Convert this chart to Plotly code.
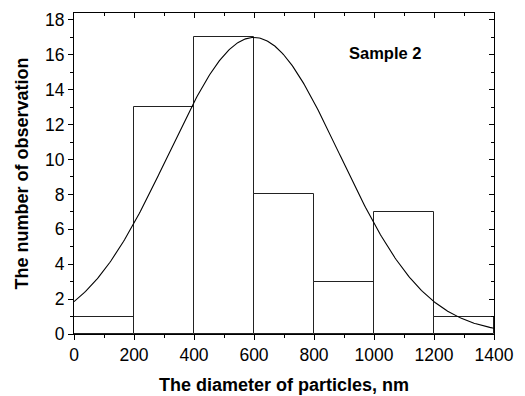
import numpy as np
import plotly.graph_objects as go

# Histogram data
bin_left = [0, 200, 400, 600, 800, 1000, 1200]
bin_width = 200
counts = [1, 13, 17, 8, 3, 7, 1]

# Gaussian fit parameters
fit_center = 600
fit_sigma = 285
fit_amplitude = 17.0

x_ticks = [0, 200, 400, 600, 800, 1000, 1200, 1400]
y_ticks = [0, 2, 4, 6, 8, 10, 12, 14, 16, 18]

bin_centers = [b + bin_width / 2 for b in bin_left]
xf = np.linspace(0, 1400, 400)
yf = fit_amplitude * np.exp(-((xf - fit_center) ** 2) / (2 * fit_sigma ** 2))

FONT = "Liberation Sans, Arial, sans-serif"

fig = go.Figure()
fig.add_trace(go.Bar(
    x=bin_centers, y=counts, width=[bin_width] * len(counts),
    marker=dict(color="white", line=dict(color="#222", width=1)),
    showlegend=False, hoverinfo="skip"))
fig.add_trace(go.Scatter(
    x=xf, y=yf, mode="lines", line=dict(color="black", width=1.1),
    showlegend=False, hoverinfo="skip"))

fig.add_annotation(x=1037, y=16.1, text="<b>Sample 2</b>", showarrow=False,
                   font=dict(family=FONT, size=16.5, color="black"),
                   xref="x", yref="y")

axis_common = dict(showgrid=False, zeroline=False, showline=True,
                   linecolor="black", linewidth=1.2, automargin=False)

fig.update_layout(
    width=525, height=396,
    margin=dict(l=74, r=31, t=13, b=62),
    paper_bgcolor="white", plot_bgcolor="white",
    bargap=0,
    font=dict(family=FONT, color="black"),
    xaxis=dict(range=[0, 1400], tickvals=x_ticks,
               ticks="outside", ticklen=5, tickwidth=1, tickcolor="black",
               minor=dict(tickvals=list(range(100, 1400, 200)), ticks="outside",
                          ticklen=3, tickcolor="black"),
               tickfont=dict(size=17.5, family=FONT),
               title=dict(text="<b>The diameter of particles, nm</b>",
                          font=dict(size=18, family=FONT), standoff=14),
               **axis_common),
    yaxis=dict(range=[0, 18.4], tickvals=y_ticks,
               ticks="outside", ticklen=5, tickwidth=1, tickcolor="black",
               minor=dict(tickvals=list(range(1, 19, 2)), ticks="outside",
                          ticklen=3, tickcolor="black"),
               tickfont=dict(size=17.5, family=FONT),
               title=dict(text="<b>The number of observation</b>",
                          font=dict(size=18, family=FONT), standoff=11),
               **axis_common),
    xaxis2=dict(range=[0, 1400], overlaying="x", side="top", tickvals=x_ticks,
                ticks="inside", ticklen=5, tickcolor="black", showticklabels=False,
                minor=dict(tickvals=list(range(100, 1400, 200)), ticks="inside",
                           ticklen=3, tickcolor="black"),
                **axis_common),
    yaxis2=dict(range=[0, 18.4], overlaying="y", side="right", tickvals=y_ticks,
                ticks="inside", ticklen=5, tickcolor="black", showticklabels=False,
                minor=dict(tickvals=list(range(1, 19, 2)), ticks="inside",
                           ticklen=3, tickcolor="black"),
                **axis_common),
)
# dummy trace to activate the mirrored axes
fig.add_trace(go.Scatter(x=[None], y=[None], xaxis="x2", yaxis="y2",
                         showlegend=False, hoverinfo="skip"))

fig.write_html("out.html", config={"displayModeBar": False},
               post_script="document.body.style.margin='0';document.body.style.padding='0';")
